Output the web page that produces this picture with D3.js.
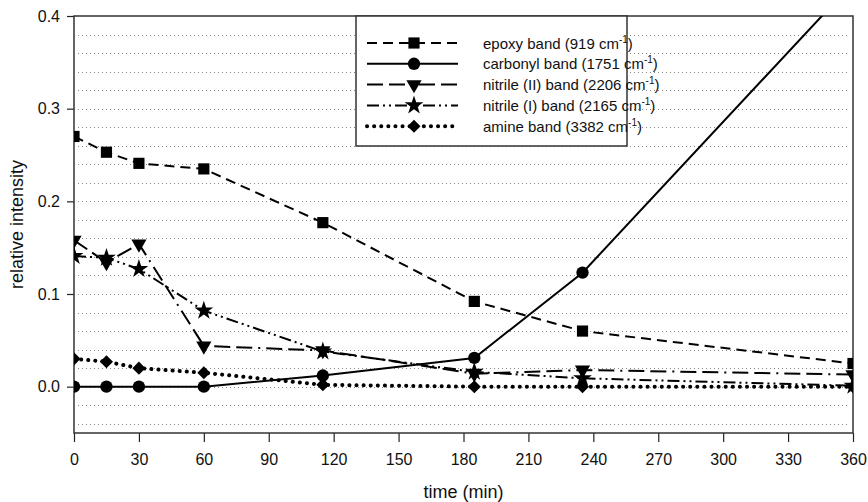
<!DOCTYPE html>
<html>
<head>
<meta charset="utf-8">
<script src="https://cdn.jsdelivr.net/npm/d3@7"></script>
<style>
  body { margin: 0; background: #fff; }
  text { font-family: "Liberation Sans", Arial, sans-serif; fill: #111; }
</style>
</head>
<body>
<div id="chart"></div>
<script>
// data
const times = [0, 15, 30, 60, 115, 185, 235, 360];
const epoxy = [0.270, 0.253, 0.241, 0.235, 0.177, 0.092, 0.060, 0.025];
const carbonyl = [0, 0, 0, 0, 0.012, 0.031, 0.123, 0.436];
const nitrileII = [0.158, 0.134, 0.154, 0.044, 0.039, 0.014, 0.018, 0.013];
const nitrileI = [0.141, 0.139, 0.127, 0.082, 0.038, 0.016, 0.009, 0.001];
const amine = [0.030, 0.027, 0.020, 0.015, 0.002, 0.000, 0.000, 0.000];

const xTicks = [0, 30, 60, 90, 120, 150, 180, 210, 240, 270, 300, 330, 360];
const yTicks = [0.0, 0.1, 0.2, 0.3, 0.4];
const gridValues = d3.range(-0.04, 0.39, 0.02);

const seriesNames = ["epoxy band (919 cm", "carbonyl band (1751 cm", "nitrile (II) band (2206 cm",
  "nitrile (I) band (2165 cm", "amine band (3382 cm"];

//svg dimensions
const width = 868;
const height = 502;
const plotLeft = 74, plotRight = 853, plotTop = 16, plotBottom = 433;

let svg = d3.select("#chart")
  .append("svg")
  .attr("width", width)
  .attr("height", height);

//scales
let xScale = d3.scaleLinear().domain([0, 360]).range([plotLeft, plotRight]);
let yScale = d3.scaleLinear().domain([-0.05, 0.4]).range([plotBottom, plotTop]);

svg.append("defs").append("clipPath").attr("id", "plot-clip")
  .append("rect")
  .attr("x", plotLeft).attr("y", plotTop)
  .attr("width", plotRight - plotLeft).attr("height", plotBottom - plotTop);

//dotted gridlines
svg.append("g")
  .selectAll("line")
  .data(gridValues)
  .enter()
  .append("line")
  .attr("x1", plotLeft + 4)
  .attr("x2", plotRight - 3)
  .attr("y1", d => Math.round(yScale(d)) + 0.5)
  .attr("y2", d => Math.round(yScale(d)) + 0.5)
  .attr("stroke", "#888")
  .attr("stroke-width", 1)
  .attr("stroke-dasharray", "1,3");

//axes
let xAxis = svg.append("g")
  .attr("transform", "translate(0," + plotBottom + ")")
  .call(d3.axisBottom(xScale).tickValues(xTicks).tickSize(9).tickPadding(12).tickFormat(d3.format("d")));

let yAxis = svg.append("g")
  .attr("transform", "translate(" + plotLeft + ",0)")
  .call(d3.axisLeft(yScale).tickValues(yTicks).tickSize(7).tickPadding(7).tickFormat(d3.format(".1f")));

[xAxis, yAxis].forEach(a => {
  a.select(".domain").remove();
  a.selectAll("line").attr("stroke", "#222").attr("stroke-width", 1.2);
  a.selectAll("text").style("font-size", "16px").style("font-family", "'Liberation Sans', Arial, sans-serif").attr("fill", "#111");
});

//frame
svg.append("rect")
  .attr("x", plotLeft).attr("y", plotTop)
  .attr("width", plotRight - plotLeft).attr("height", plotBottom - plotTop)
  .attr("fill", "none")
  .attr("stroke", "#333")
  .attr("stroke-width", 1.5);

//axis titles
svg.append("text")
  .attr("x", (plotLeft + plotRight) / 2)
  .attr("y", 498)
  .attr("text-anchor", "middle")
  .style("font-size", "18px")
  .text("time (min)");

svg.append("text")
  .attr("transform", "translate(23," + (plotTop + plotBottom) / 2 + ") rotate(-90)")
  .attr("text-anchor", "middle")
  .style("font-size", "18px")
  .text("relative intensity");

//series styles
const styles = [
  { values: epoxy, dash: "10,6", width: 2, cap: "butt", symbol: d3.symbolSquare, size: 125, rot: 0 },
  { values: carbonyl, dash: null, width: 2, cap: "butt", symbol: d3.symbolCircle, size: 120, rot: 0 },
  { values: nitrileII, dash: "16,6,16,6,2,6", width: 2, cap: "butt", symbol: d3.symbolTriangle, size: 100, rot: 180 },
  { values: nitrileI, dash: "12,4,2,4,2,4", width: 2, cap: "butt", symbol: d3.symbolStar, size: 110, rot: 0 },
  { values: amine, dash: "0.1,7", width: 4, cap: "round", symbol: d3.symbolSquare, size: 85, rot: 45 }
];

let lineGen = d3.line()
  .x(d => xScale(d.t))
  .y(d => yScale(d.v));

let plot = svg.append("g").attr("clip-path", "url(#plot-clip)");

styles.forEach(s => {
  let pts = times.map((t, i) => ({ t: t, v: s.values[i] }));
  plot.append("path")
    .datum(pts)
    .attr("d", lineGen)
    .attr("fill", "none")
    .attr("stroke", "#000")
    .attr("stroke-width", s.width)
    .attr("stroke-linecap", s.cap)
    .attr("stroke-dasharray", s.dash);
  plot.selectAll(null)
    .data(pts)
    .enter()
    .append("path")
    .attr("d", d3.symbol().type(s.symbol).size(s.size))
    .attr("transform", d => "translate(" + xScale(d.t) + "," + yScale(d.v) + ") rotate(" + s.rot + ")")
    .attr("fill", "#000");
});

//legend
const legX = 356, legY = 16, legW = 271, legH = 130;
let legend = svg.append("g");
legend.append("rect")
  .attr("x", legX).attr("y", legY)
  .attr("width", legW).attr("height", legH)
  .attr("fill", "#fff")
  .attr("stroke", "#333")
  .attr("stroke-width", 1.5);

styles.forEach((s, i) => {
  let y = 43 + i * 20.8;
  legend.append("line")
    .attr("x1", 367).attr("x2", 458)
    .attr("y1", y).attr("y2", y)
    .attr("stroke", "#000")
    .attr("stroke-width", s.width)
    .attr("stroke-linecap", s.cap)
    .attr("stroke-dasharray", s.dash);
  legend.append("path")
    .attr("d", d3.symbol().type(s.symbol).size(s.size))
    .attr("transform", "translate(414," + y + ") rotate(" + s.rot + ")")
    .attr("fill", "#000");
  let t = legend.append("text")
    .attr("x", 483)
    .attr("y", y + 5.5)
    .style("font-size", "15px");
  t.append("tspan").text(seriesNames[i]);
  t.append("tspan").attr("dy", -6).style("font-size", "10px").text("-1");
  t.append("tspan").attr("dy", 6).text(")");
});
</script>
</body>
</html>
